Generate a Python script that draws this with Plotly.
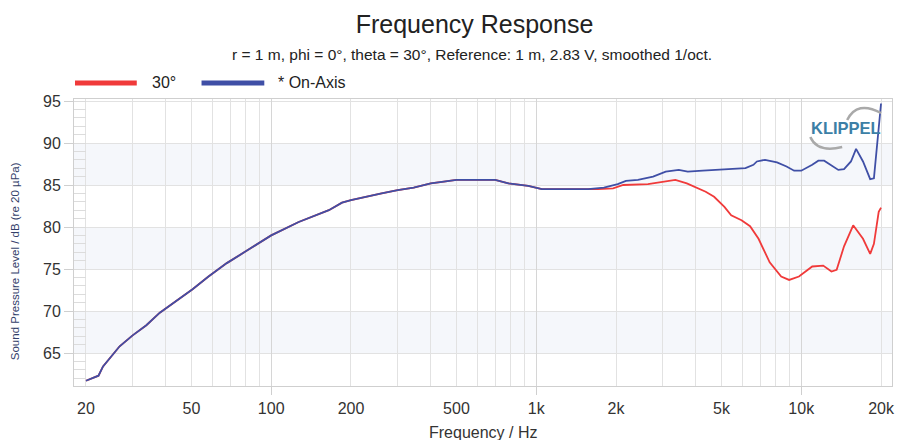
import plotly.graph_objects as go
import math

# ---------------- data ----------------
freq_common = [20, 22.3, 23.2, 24.6, 26.8, 30, 33.8, 38, 44, 50.5, 58, 68, 83, 100,
               127, 165, 185, 200, 261, 300, 345, 400, 448, 500, 600, 700, 785,
               933, 1050, 1300, 1570]
spl_common = [61.7, 62.3, 63.4, 64.4, 65.8, 67.1, 68.3, 69.8, 71.2, 72.6, 74.1, 75.7,
              77.4, 79.0, 80.6, 82.0, 82.9, 83.2, 84.0, 84.4, 84.7, 85.2, 85.4,
              85.6, 85.6, 85.6, 85.2, 84.9, 84.5, 84.5, 84.5]

freq_onaxis_hi = [1800, 2030, 2180, 2420, 2760, 3080, 3450, 3730, 4250, 4900, 5500,
                  6160, 6600, 6800, 7300, 8100, 8800, 9400, 10000, 11000, 11600,
                  12200, 13800, 14500, 15400, 16100, 17100, 18200, 18800, 20000]
spl_onaxis_hi = [84.7, 85.1, 85.5, 85.6, 86.0, 86.6, 86.8, 86.6, 86.7, 86.8, 86.9,
                 87.0, 87.4, 87.8, 88.0, 87.7, 87.2, 86.7, 86.7, 87.4, 87.9,
                 87.9, 86.8, 86.9, 87.8, 89.3, 87.8, 85.7, 85.8, 94.7]

freq_30_hi = [1710, 1950, 2130, 2640, 3000, 3350, 3700, 4070, 4360, 4690, 5130, 5440,
              5950, 6410, 6900, 7600, 8400, 9000, 9800, 11000, 12100, 13000, 13600,
              14500, 15700, 17100, 18200, 18800, 19600, 20000]
spl_30_hi = [84.5, 84.6, 85.0, 85.1, 85.4, 85.6, 85.2, 84.6, 84.2, 83.6, 82.4, 81.4,
             80.8, 80.1, 78.6, 75.8, 74.1, 73.7, 74.1, 75.3, 75.4, 74.7, 74.9,
             77.7, 80.2, 78.6, 76.8, 78.0, 81.8, 82.3]

series_names = ["30°", "* On-Axis"]
series_colors = ["#f03a3a", "#3f4fa6"]

x_tick_vals = [20, 50, 100, 200, 500, 1000, 2000, 5000, 10000, 20000]
x_tick_text = ["20", "50", "100", "200", "500", "1k", "2k", "5k", "10k", "20k"]
x_decades = [100, 1000, 10000]
x_minor_grid = [m * 10 ** d for d in (1, 2, 3, 4) for m in range(1, 10)
                if 20 <= m * 10 ** d <= 20000]
y_tick_vals = [65, 70, 75, 80, 85, 90, 95]
y_bands = [(65, 70), (75, 80), (85, 90)]

# ---------------- figure ----------------
W, H = 897, 440
L, R, T, B = 74, 2, 99, 54
pw, ph = W - L - R, H - T - B

def px_x(p):
    return (p - L) / pw

def px_y(p):
    return (H - B - p) / ph

FONT = "Liberation Sans, Arial, sans-serif"
GRID = "#e2e2e2"

fig = go.Figure()

f30 = freq_common + freq_30_hi
s30 = spl_common + spl_30_hi
fon = freq_common + freq_onaxis_hi
son = spl_common + spl_onaxis_hi

fig.add_trace(go.Scatter(x=f30, y=s30, mode="lines", name=series_names[0],
                         line=dict(color=series_colors[0], width=1.8)))
fig.add_trace(go.Scatter(x=fon, y=son, mode="lines", name=series_names[1],
                         line=dict(color=series_colors[1], width=1.8)))
# helper trace for overlay axis with decade ticks
fig.add_trace(go.Scatter(x=[None], y=[None], xaxis="x2", hoverinfo="skip"))

xr = [math.log10(20) - 12 / 266, math.log10(20) + 809 / 266]
yr = [95 - (H - B - 101) / 8.4, 95 + 2 / 8.4]

for y0, y1 in y_bands:
    fig.add_shape(type="rect", xref="paper", yref="y", x0=0, x1=1, y0=y0, y1=y1,
                  fillcolor="#f5f7fb", line_width=0, layer="below")

fig.update_layout(
    width=W, height=H,
    margin=dict(l=L, r=R, t=T, b=B, pad=0),
    paper_bgcolor="white", plot_bgcolor="white",
    font=dict(family=FONT, color="#333333"),
    showlegend=False,
    title=dict(text="Frequency Response", font=dict(size=25, color="#222222"),
               x=474.5 / W, xref="container", xanchor="center",
               y=1 - 24 / H, yref="container", yanchor="middle"),
    xaxis=dict(type="log", range=xr, tickvals=x_tick_vals, ticktext=x_tick_text,
               showgrid=True, gridcolor=GRID, gridwidth=1, ticks="outside",
               ticklen=8, tickcolor="rgba(0,0,0,0)", ticklabeloverflow="allow",
               tickfont=dict(size=16, color="#333333"),
               showline=True, linecolor="#cfcfcf", mirror=True,
               minor=dict(tickvals=x_minor_grid, showgrid=True, gridcolor=GRID,
                          gridwidth=1, ticks=""),
               zeroline=False),
    xaxis2=dict(type="log", range=xr, overlaying="x", anchor="y", side="bottom",
                tickvals=x_decades, ticks="outside", ticklen=8, tickcolor="#cfcfcf",
                showticklabels=False, showgrid=True, gridcolor="#d6d6d6",
                showline=False, zeroline=False),
    yaxis=dict(range=yr, tickvals=y_tick_vals, showgrid=True, gridcolor=GRID,
               ticks="outside", ticklen=9, tickcolor="#cfcfcf",
               tickfont=dict(size=16, color="#333333"),
               showline=True, linecolor="#cfcfcf", mirror=True, zeroline=False,
               minor=dict(dtick=1, ticks="inside", ticklen=12, tickcolor="#dcdcdc",
                          showgrid=False)),
)

# legend (drawn like the reference: long thick keys)
legend_keys = [(75, 137, 150), (202, 265, 277)]
for (xa, xb, xt), nm, col in zip(legend_keys, series_names, series_colors):
    fig.add_shape(type="line", xref="paper", yref="paper", x0=px_x(xa), x1=px_x(xb),
                  y0=px_y(83), y1=px_y(83), line=dict(color=col, width=5))
    fig.add_annotation(text=nm, xref="paper", yref="paper", x=px_x(xt), y=px_y(82),
                       xanchor="left", yanchor="middle", showarrow=False,
                       font=dict(size=16, color="#222222"))

# subtitle
fig.add_annotation(text="r = 1 m, phi = 0°, theta = 30°, Reference: 1 m, 2.83 V, smoothed 1/oct.",
                   xref="paper", yref="paper", x=px_x(473.5), y=px_y(55),
                   xanchor="center", yanchor="middle", showarrow=False,
                   font=dict(size=15.5, color="#222222"))
# axis titles
fig.add_annotation(text="Frequency / Hz", xref="paper", yref="paper",
                   x=px_x(485), y=px_y(432), xanchor="center", yanchor="middle",
                   showarrow=False, font=dict(size=16, color="#333333"))
fig.add_annotation(text="Sound Pressure Level / dB (re 20 µPa)", xref="paper", yref="paper",
                   x=px_x(15), y=px_y(261), xanchor="center", yanchor="middle",
                   textangle=-90, showarrow=False, font=dict(size=11.5, color="#33406a"))
# KLIPPEL logo
fig.add_annotation(text="<b>KLIPPEL</b>", xref="paper", yref="paper",
                   x=px_x(849), y=px_y(128), xanchor="center", yanchor="middle",
                   showarrow=False, font=dict(size=16.5, color="#3c7fa6"))

def pth(pts):
    (a, b), (c, d), (e, f) = pts
    return f"M {px_x(a)},{px_y(b)} Q {px_x(c)},{px_y(d)} {px_x(e)},{px_y(f)}"

fig.add_shape(type="path", xref="paper", yref="paper",
              path=pth([(850, 120), (860, 100), (884, 113)]),
              line=dict(color="#a9a9a9", width=2.5))
fig.add_shape(type="path", xref="paper", yref="paper",
              path=pth([(813, 137), (820, 153), (845, 147)]),
              line=dict(color="#a9a9a9", width=2.5))

fig.write_html("out.html", config={"displayModeBar": False},
               post_script="document.body.style.margin='0';document.body.style.padding='0';")
